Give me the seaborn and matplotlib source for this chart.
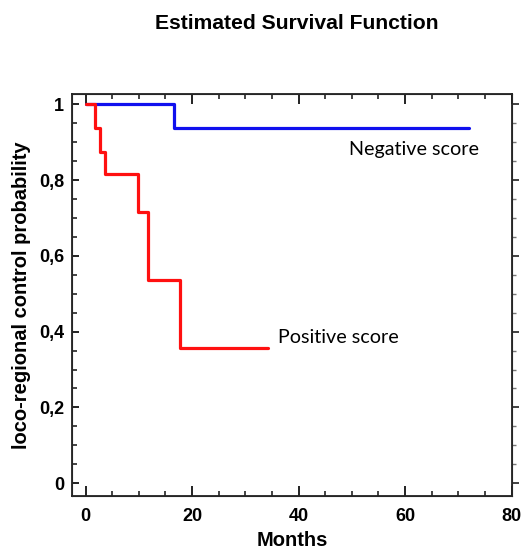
import matplotlib
matplotlib.use("Agg")
import matplotlib.pyplot as plt
import seaborn as sns
import pandas as pd
from matplotlib.ticker import MultipleLocator, FuncFormatter

# Data (Kaplan-Meier step curves)
neg_months = [0, 16.6, 72]
neg_surv = [1.0, 0.9375, 0.9375]
pos_months = [0, 1.75, 2.7, 3.6, 9.75, 11.75, 17.8, 34.2]
pos_surv = [1.0, 0.9375, 0.875, 0.8167, 0.7146, 0.5359, 0.3573, 0.3573]
x_ticks = [0, 20, 40, 60, 80]
y_ticks = [0, 0.2, 0.4, 0.6, 0.8, 1.0]

sns.set_style("ticks")
plt.rcParams['font.family'] = ['Liberation Sans', 'DejaVu Sans']
plt.rcParams['text.color'] = 'black'
plt.rcParams['axes.labelcolor'] = 'black'
plt.rcParams['xtick.color'] = '#111111'
plt.rcParams['ytick.color'] = '#111111'
plt.rcParams['xtick.labelcolor'] = 'black'
plt.rcParams['ytick.labelcolor'] = 'black'

fig = plt.figure(figsize=(5.21, 5.50), dpi=100)
ax = fig.add_axes([0.1388, 0.0987, 0.843, 0.7303])

neg = pd.DataFrame({"Months": neg_months, "surv": neg_surv})
pos = pd.DataFrame({"Months": pos_months, "surv": pos_surv})
sns.lineplot(data=neg, x="Months", y="surv", color="#1010ee", lw=2.3,
             drawstyle="steps-post", estimator=None, sort=False, ax=ax)
sns.lineplot(data=pos, x="Months", y="surv", color="#ff1010", lw=2.3,
             drawstyle="steps-post", estimator=None, sort=False, ax=ax)

ax.set_xlim(-2.5, 80)
ax.set_ylim(-0.033, 1.027)
ax.set_xticks(x_ticks)
ax.set_yticks(y_ticks)
ax.xaxis.set_minor_locator(MultipleLocator(5))
ax.yaxis.set_minor_locator(MultipleLocator(0.05))
ax.yaxis.set_major_formatter(FuncFormatter(lambda v, p: ("%g" % v).replace(".", ",")))

for s in ax.spines.values():
    s.set_linewidth(1.3)
    s.set_color("#222222")

ax.tick_params(axis="both", which="both", direction="in", top=True, right=False)
ax.tick_params(axis="x", which="major", length=7, width=1.3, pad=9)
ax.tick_params(axis="x", which="minor", length=3.5, width=1.1)
ax.tick_params(axis="y", which="major", length=5, width=1.3, pad=6)
ax.tick_params(axis="y", which="minor", length=3.5, width=1.1)
for lab in ax.get_xticklabels() + ax.get_yticklabels():
    lab.set_fontweight("bold")
    lab.set_fontsize(13)

# Right side outward ticks
ax2 = ax.twinx()
ax2.set_ylim(ax.get_ylim())
ax2.set_yticks(y_ticks)
ax2.yaxis.set_minor_locator(MultipleLocator(0.05))
ax2.tick_params(axis="y", which="major", direction="out", length=5, width=1.3,
                labelright=False, color="#333333")
ax2.tick_params(axis="y", which="minor", direction="out", length=3, width=1.0,
                color="#777777")
ax2.set_ylabel("")

ax.set_xlabel("Months", fontsize=14.5, fontweight="bold", labelpad=4)
ax.set_ylabel("loco-regional control probability", fontsize=14.5, fontweight="bold",
              labelpad=6)

ax.text(49.4, 0.866, "Negative score", fontsize=14.2, family=["Lato", "DejaVu Sans"],
        color="black", va="baseline", ha="left")
ax.text(36.1, 0.369, "Positive score", fontsize=14.2, family=["Lato", "DejaVu Sans"],
        color="black", va="baseline", ha="left")

fig.text(0.57, 0.958, "Estimated Survival Function", fontsize=15.2, fontweight="bold",
         ha="center", va="center", color="black")

fig.savefig("out.png", dpi=100)
